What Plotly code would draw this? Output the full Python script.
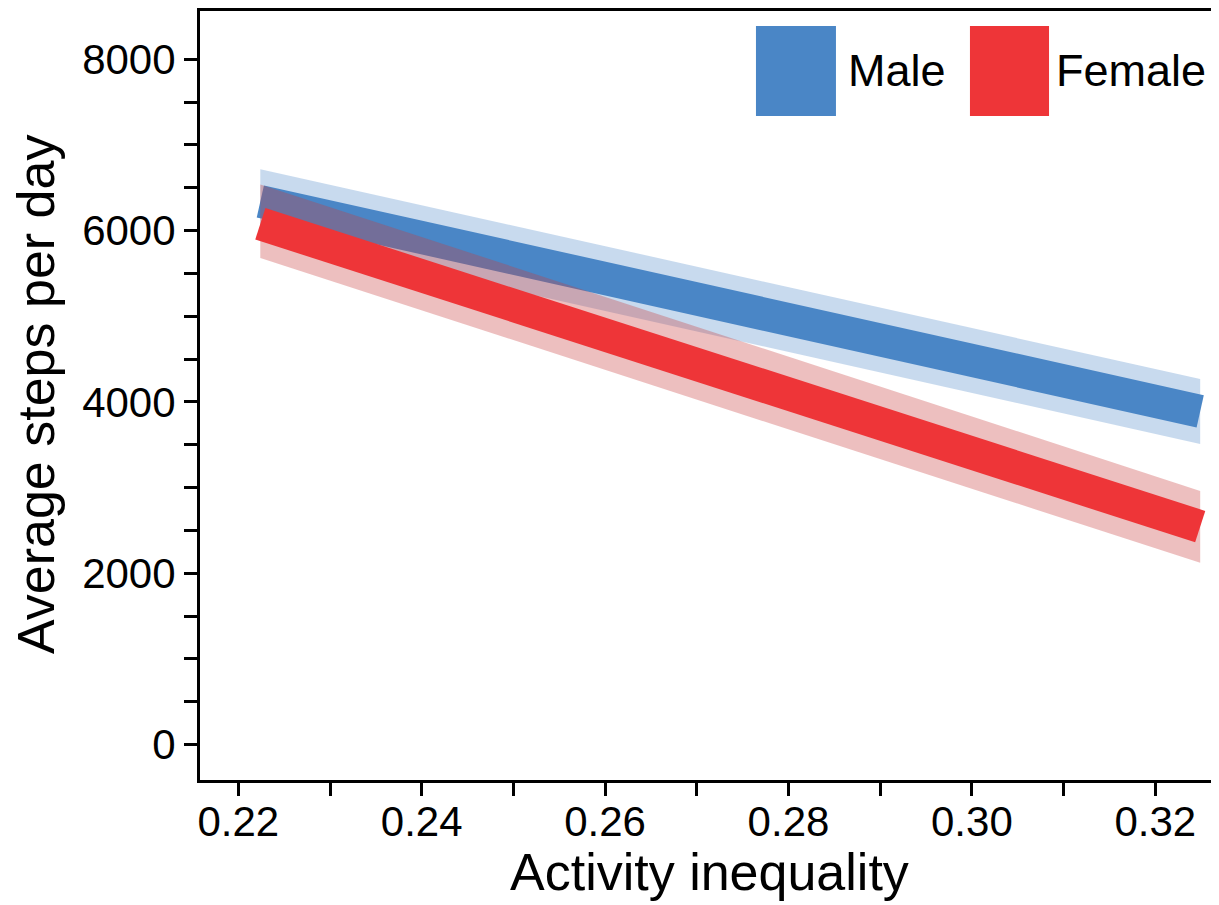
import plotly.graph_objects as go

# fitted lines and 95% bands
x_ends = [0.2224, 0.3249]
male_fit = [6340, 3890]
male_lo = [5960, 3510]
male_hi = [6717, 4268]
female_fit = [6080, 2545]
female_lo = [5680, 2122]
female_hi = [6540, 2962]

y_ticks = [0, 2000, 4000, 6000, 8000]
y_minor = [500, 1000, 1500, 2500, 3000, 3500, 4500, 5000, 5500, 6500, 7000, 7500]
x_ticks = [0.22, 0.24, 0.26, 0.28, 0.30, 0.32]
x_minor = [0.23, 0.25, 0.27, 0.29, 0.31]

COLORS = {'male': '#4A86C6', 'female': '#EE3538'}
BANDS = {'male': 'rgba(74, 134, 198, 0.30)', 'female': 'rgba(200, 60, 60, 0.33)'}
FONT = 'Liberation Sans, Arial, Helvetica, sans-serif'

fig = go.Figure()

for key, lo, hi, fit in [('male', male_lo, male_hi, male_fit),
                         ('female', female_lo, female_hi, female_fit)]:
    fig.add_trace(go.Scatter(x=x_ends, y=lo, mode='lines', line=dict(width=0),
                             showlegend=False, hoverinfo='skip'))
    fig.add_trace(go.Scatter(x=x_ends, y=hi, mode='lines', line=dict(width=0),
                             fill='tonexty', fillcolor=BANDS[key],
                             showlegend=False, hoverinfo='skip'))
    fig.add_trace(go.Scatter(x=x_ends, y=fit, mode='lines',
                             line=dict(color=COLORS[key], width=33),
                             showlegend=False))

axis_common = dict(
    showgrid=False, zeroline=False, showline=True, linecolor='black', linewidth=3,
    ticks='outside', ticklen=13, tickwidth=3, tickcolor='black', automargin=False,
    tickfont=dict(family=FONT, size=42, color='black'),
)

fig.update_xaxes(
    range=[0.21582, 0.32695], tickvals=x_ticks, tickformat='.2f', mirror=True,
    ticklabelstandoff=-10,
    minor=dict(tickvals=x_minor, ticks='outside', ticklen=13, tickwidth=3, tickcolor='black'),
    **axis_common,
)
fig.update_yaxes(
    range=[-413, 8564], tickvals=y_ticks, tickformat='d',
    minor=dict(tickvals=y_minor, ticks='outside', ticklen=13, tickwidth=3, tickcolor='black'),
    **axis_common,
)

# axis titles as annotations so they sit where the original has them
fig.add_annotation(xref='paper', yref='paper', x=0.5, y=0, yshift=-92,
                   text='Activity inequality', showarrow=False,
                   xanchor='center', yanchor='middle',
                   font=dict(family=FONT, size=52, color='black'))
fig.add_annotation(xref='paper', yref='paper', x=0, y=0.5007, xshift=-164,
                   text='Average steps per day', showarrow=False, textangle=-90,
                   xanchor='center', yanchor='middle',
                   font=dict(family=FONT, size=52, color='black'))

# legend drawn as big swatches like the original
for x0, x1, key, label, tx in [(0.5456, 0.6241, 'male', 'Male', 0.634),
                               (0.7556, 0.8332, 'female', 'Female', 0.838)]:
    fig.add_shape(type='rect', xref='paper', yref='paper', x0=x0, x1=x1, y0=0.8635, y1=0.9805,
                  fillcolor=COLORS[key], line=dict(width=0))
    fig.add_annotation(xref='paper', yref='paper', x=tx, y=0.922, text=label,
                       showarrow=False, xanchor='left', yanchor='middle',
                       font=dict(family=FONT, size=45, color='black'))

fig.update_layout(
    width=1211, height=897,
    margin=dict(l=192, r=0, t=3, b=125, autoexpand=False),
    plot_bgcolor='white', paper_bgcolor='white',
    showlegend=False,
)

fig.write_html("out.html")
